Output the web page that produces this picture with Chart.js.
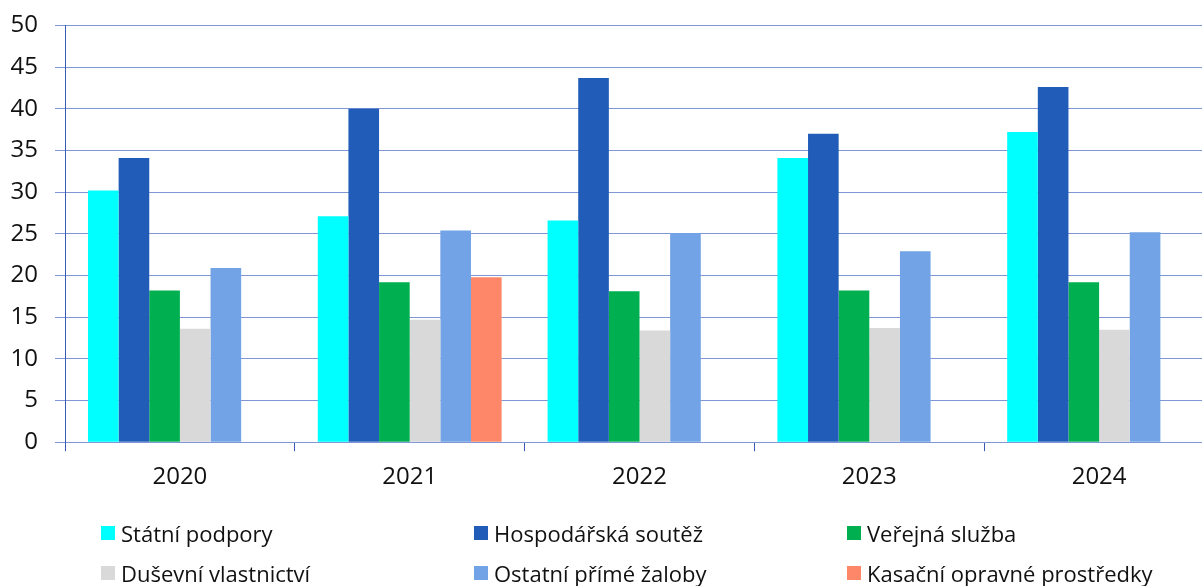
<!DOCTYPE html>
<html>
<head>
<meta charset="utf-8">
<script src="https://cdn.jsdelivr.net/npm/chart.js@4.4.1/dist/chart.umd.min.js"></script>
<style>
  body { margin: 0; background: #fff; font-family: "Open Sans", sans-serif; }
  #wrap { position: relative; width: 1202px; height: 586px; overflow: hidden; }
  #chartBox { position: absolute; left: 0; top: -6px; width: 1214px; height: 510px; }
  #legend { position: absolute; left: 0; top: 0; width: 1202px; height: 586px; pointer-events: none; }
  .item { position: absolute; display: flex; align-items: center; font-size: 22px; color: #111; white-space: nowrap; }
  .box { width: 14px; height: 14px; margin-right: 6px; }
</style>
</head>
<body>
<div id="wrap">
  <div id="chartBox"><canvas id="barCanvas"></canvas></div>
  <div id="legend"></div>
</div>
<script>
var years = ["2020", "2021", "2022", "2023", "2024"];
var seriesNames = ["Státní podpory", "Hospodářská soutěž", "Veřejná služba",
                   "Duševní vlastnictví", "Ostatní přímé žaloby", "Kasační opravné prostředky"];
var statniPodpory = [30.2, 27.1, 26.6, 34.1, 37.2];
var hospSoutez = [34.1, 40.0, 43.7, 37.0, 42.6];
var verejnaSluzba = [18.2, 19.2, 18.1, 18.2, 19.2];
var dusevniVlast = [13.6, 14.7, 13.4, 13.7, 13.5];
var ostatniZaloby = [20.9, 25.4, 25.1, 22.9, 25.2];
var kasacni = [null, 19.8, null, null, null];
var colors = ["#00FFFF", "#215DB8", "#00B050", "#D9D9D9", "#71A3E6", "#FF8769"];

var gridColor = "#7F97D4";
var axisColor = "#3B5CB5";

var allData = [statniPodpory, hospSoutez, verejnaSluzba, dusevniVlast, ostatniZaloby, kasacni];
var datasets = [];
for (var i = 0; i < allData.length; i++) {
  datasets.push({
    label: seriesNames[i],
    data: allData[i],
    backgroundColor: colors[i],
    borderWidth: 0,
    categoryPercentage: 0.8,
    barPercentage: 1.0
  });
}

// legend in three columns
var legendPos = [[101, 533], [474, 533], [847, 533], [101, 573], [474, 573], [847, 573]];
var legend = document.getElementById('legend');
for (var j = 0; j < seriesNames.length; j++) {
  var el = document.createElement('div');
  el.className = 'item';
  el.style.left = legendPos[j][0] + 'px';
  el.style.top = (legendPos[j][1] - 15) + 'px';
  el.style.height = '30px';
  el.innerHTML = '<span class="box" style="background:' + colors[j] + '"></span>' + seriesNames[j];
  legend.appendChild(el);
}

var config = {
  type: 'bar',
  data: { labels: years, datasets: datasets },
  options: {
    responsive: true,
    maintainAspectRatio: false,
    animation: false,
    layout: { padding: { top: 4, right: 0, left: 0, bottom: 0 } },
    plugins: { legend: { display: false }, tooltip: { enabled: false } },
    scales: {
      x: {
        grid: { display: true, drawOnChartArea: false, drawTicks: true, tickLength: 9, color: axisColor, offset: true },
        border: { display: true, color: gridColor, width: 1 },
        ticks: { color: '#111', font: { family: 'Open Sans', size: 24 }, padding: 12 }
      },
      y: {
        min: 0,
        max: 50,
        afterFit: function(scale) { scale.width = 65; },
        ticks: { stepSize: 5, color: '#111', font: { family: 'Open Sans', size: 24 }, padding: 17 },
        grid: { color: gridColor, tickLength: 10, drawTicks: true },
        border: { display: true, color: axisColor, width: 1 }
      }
    }
  }
};

var ctx = document.getElementById('barCanvas');
var barChart = new Chart(ctx, config);
</script>
</body>
</html>
